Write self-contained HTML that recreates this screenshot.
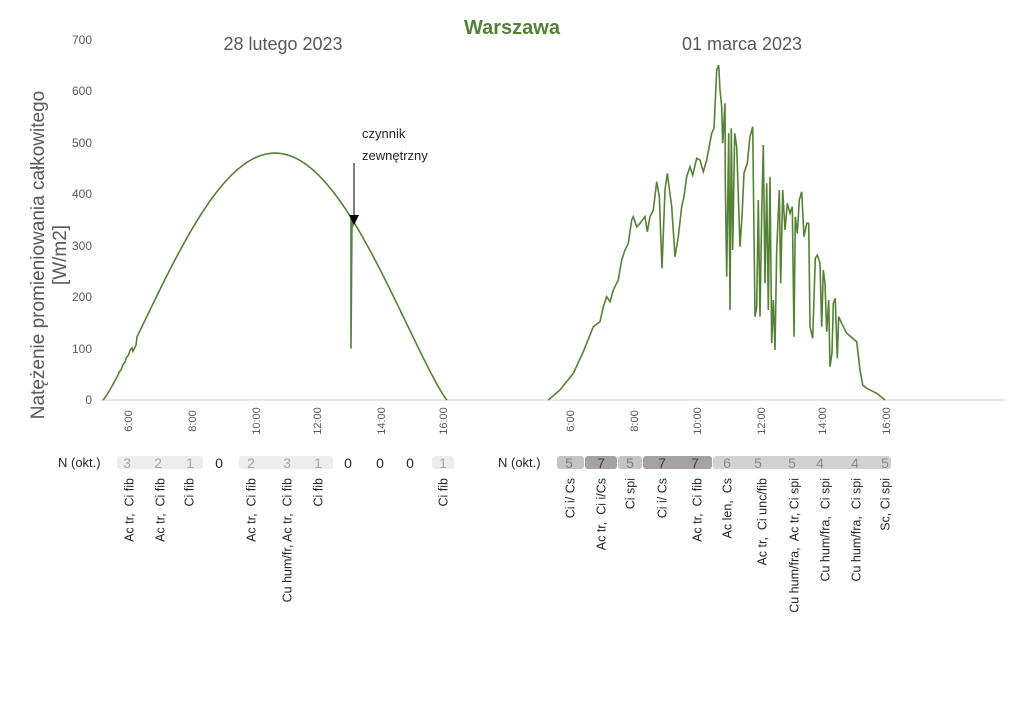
<!DOCTYPE html>
<html><head><meta charset="utf-8"><style>
body{margin:0;background:#fff}
svg{display:block;font-family:"Liberation Sans","DejaVu Sans",sans-serif}
</style></head><body>
<svg id="s" width="1024" height="715" viewBox="0 0 1024 715" xmlns="http://www.w3.org/2000/svg">
<rect width="1024" height="715" fill="#fff"/>
<text x="512" y="34" text-anchor="middle" font-size="20" font-weight="bold" fill="#548235">Warszawa</text>
<text x="283" y="50" text-anchor="middle" font-size="18" fill="#595959">28 lutego 2023</text>
<text x="742" y="50" text-anchor="middle" font-size="18" fill="#595959">01 marca 2023</text>
<g font-size="12" fill="#595959" text-anchor="end">
<text x="92" y="404">0</text><text x="92" y="353">100</text><text x="92" y="301">200</text><text x="92" y="250">300</text><text x="92" y="198">400</text><text x="92" y="147">500</text><text x="92" y="95">600</text><text x="92" y="44">700</text>
</g>
<g transform="translate(44,255) rotate(-90)" font-size="19" fill="#595959" text-anchor="middle">
<text x="0" y="0">Natężenie promieniowania całkowitego</text>
<text x="0" y="22">[W/m2]</text>
</g>
<line x1="100" y1="400" x2="1005" y2="400" stroke="#d9d9d9" stroke-width="1.2"/>
<g id="ticks" font-size="11" fill="#595959"></g>
<path id="L" fill="none" stroke="#548235" stroke-width="1.6"/>
<path id="R" fill="none" stroke="#548235" stroke-width="1.6"/>
<text x="362" y="138" font-size="13" fill="#262626">czynnik</text>
<text x="362" y="160" font-size="13" fill="#262626">zewnętrzny</text>
<line x1="354" y1="163" x2="354" y2="216" stroke="#000" stroke-width="1"/>
<polygon points="349,215 359,215 354,225" fill="#000"/>
<text x="58" y="467" font-size="13" fill="#262626">N (okt.)</text>
<text x="498" y="467" font-size="13" fill="#262626">N (okt.)</text>
<g id="bars"></g>
<g id="lbl" font-size="12.5" fill="#262626"></g>
</svg>
<script>
var NS="http://www.w3.org/2000/svg";
function el(t,a,p,txt){var e=document.createElementNS(NS,t);for(var k in a)e.setAttribute(k,a[k]);if(txt!=null)e.textContent=txt;p.appendChild(e);return e;}
var Y=function(v){return 400-v*0.5143;};
var tk=document.getElementById('ticks');
[[128,'6:00'],[192,'8:00'],[256,'10:00'],[317,'12:00'],[381,'14:00'],[443,'16:00'],[570,'6:00'],[634,'8:00'],[697,'10:00'],[761,'12:00'],[822,'14:00'],[886,'16:00']].forEach(function(t){
 el('text',{x:0,y:0,'text-anchor':'middle',transform:'translate('+(t[0]+4)+',421) rotate(-90)'},tk,t[1]);});
var d='';
for(var x=103;x<=447;x+=1){
 var p=(x-103)/344; var v=480*Math.pow(Math.sin(Math.PI*p),1.15);
 if(x>=133&&x<=136) v-=12;
 if(x>=118&&x<=133) v+= 1.5*Math.sin(x*1.7);
 if(x==351){d+='L351,'+Y(v).toFixed(1)+'L351,'+Y(100)+'L352,'+Y(350)+'L353,'+Y(337);continue;}
 d+=(d?'L':'M')+x+','+Y(Math.max(v,0)).toFixed(1);
}
document.getElementById('L').setAttribute('d',d);
var pts=[[25,1050],[60,1020],[100,970],[130,905],[160,830],[180,815],[190,770],[200,740],[210,755],[220,720],[235,690],[245,630],[255,600],[265,580],[275,510],[280,500],[290,530],[300,520],[315,500],[322,545],[330,500],[340,480],[350,395],[358,440],[366,655],[375,420],[382,370],[395,470],[405,620],[415,560],[425,470],[432,440],[440,380],[450,350],[458,375],[470,325],[480,330],[490,365],[500,330],[515,250],[522,235],[530,60],[536,45],[540,120],[545,170],[548,280],[555,160],[556,400],[560,680],[566,250],[570,780],[574,235],[578,600],[584,250],[590,290],[600,590],[606,500],[612,370],[622,340],[630,260],[638,230],[645,800],[650,770],[655,450],[660,800],[665,490],[670,285],[675,700],[680,400],[685,780],[690,380],[695,880],[700,750],[705,900],[710,600],[718,420],[722,700],[728,420],[735,540],[742,460],[750,490],[757,470],[762,860],[766,500],[772,550],[778,450],[785,425],[792,560],[800,520],[806,520],[810,830],[818,865],[826,625],[832,615],[840,640],[845,830],[850,660],[855,700],[860,845],[866,750],[870,950],[876,910],[880,760],[886,745],[892,925],[896,800],[905,820],[920,850],[950,875],[960,960],[968,1005],[980,1015],[1010,1030],[1035,1050]];
document.getElementById('R').setAttribute('d',pts.map(function(p,i){return (i?'L':'M')+(540+p[0]/3).toFixed(1)+','+(50+p[1]/3).toFixed(1);}).join(''));
var b=document.getElementById('bars');
[[117,203,'#ededed'],[239,333,'#ededed'],[432,454,'#ededed'],[557,584,'#c4c4c4'],[585,617,'#a6a2a2'],[618,642,'#c4c4c4'],[643,712,'#a6a2a2'],[713,891,'#d2d2d2']].forEach(function(r){
 el('rect',{x:r[0],y:456,width:r[1]-r[0],height:13,rx:3,fill:r[2]},b);});
[[127,'3','#a6a6a6'],[158,'2','#a6a6a6'],[190,'1','#a6a6a6'],[219,'0','#262626'],[251,'2','#a6a6a6'],[287,'3','#a6a6a6'],[318,'1','#a6a6a6'],[348,'0','#262626'],[380,'0','#262626'],[410,'0','#262626'],[443,'1','#a6a6a6'],
 [569,'5','#7f7f7f'],[601,'7','#404040'],[630,'5','#7f7f7f'],[662,'7','#404040'],[695,'7','#404040'],[727,'6','#8c8c8c'],[758,'5','#8c8c8c'],[792,'5','#8c8c8c'],[820,'4','#8c8c8c'],[855,'4','#8c8c8c'],[885,'5','#8c8c8c']].forEach(function(n){
 el('text',{x:n[0],y:468,'text-anchor':'middle','font-size':'14',fill:n[2]},b,n[1]);});
var l=document.getElementById('lbl');
[[129,'Ac tr,  Ci fib'],[160,'Ac tr,  Ci fib'],[189,'Ci fib'],[251,'Ac tr,  Ci fib'],[287,'Cu hum/fr, Ac tr,  Ci fib'],[318,'Ci fib'],[443,'Ci fib'],
 [570,'Ci i/ Cs'],[601,'Ac tr,  Ci i/Cs'],[630,'Ci spi'],[662,'Ci i/ Cs'],[697,'Ac tr,  Ci fib'],[727,'Ac len,  Cs'],[762,'Ac tr,  Ci unc/fib'],[794,'Cu hum/fra,  Ac tr, Ci spi'],[825,'Cu hum/fra,  Ci spi'],[856,'Cu hum/fra,  Ci spi'],[885,'Sc, Ci spi']].forEach(function(t){
 var e=el('text',{x:0,y:0,'text-anchor':'end',transform:'translate('+(t[0]+4.5)+',478) rotate(-90)'},l,t[1]);e.style.whiteSpace='pre';});
</script>
</body></html>
